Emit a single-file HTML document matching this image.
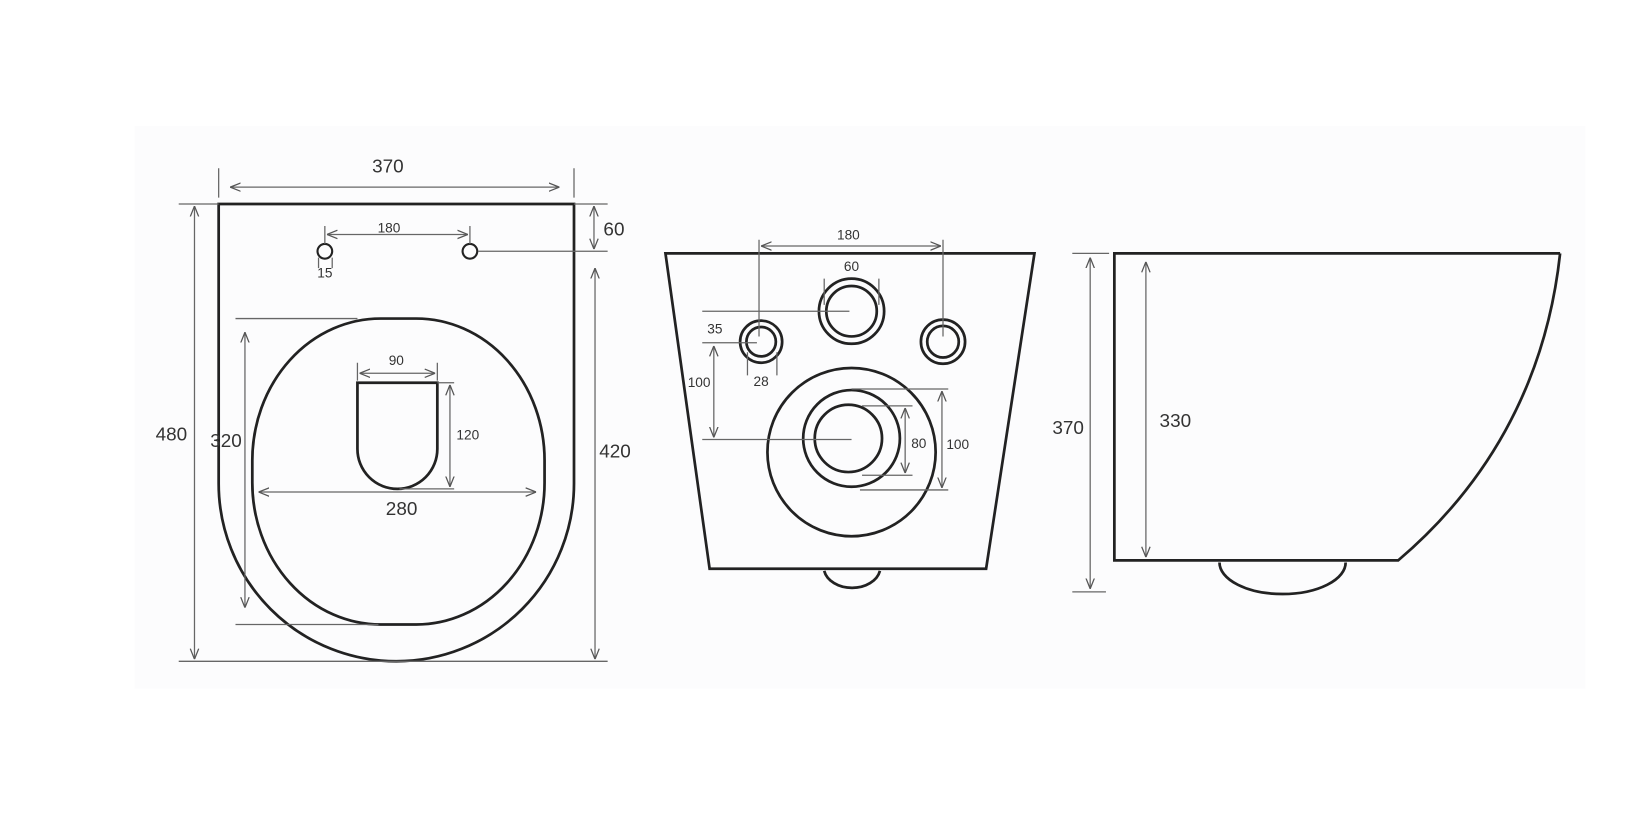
<!DOCTYPE html>
<html><head><meta charset="utf-8"><style>
html,body{margin:0;padding:0;background:#fff;width:1640px;height:839px;overflow:hidden}
svg{display:block}
text{font-family:"Liberation Sans",sans-serif;fill:#333;text-anchor:middle}
.d{stroke:#666;stroke-width:1.2;fill:none}
.o{stroke:#222;stroke-width:2.6;fill:none}
.b{font-size:18px}
.s{font-size:13px}
</style></head><body>
<svg width="1640" height="839" viewBox="0 0 1560 798" preserveAspectRatio="none">
<defs>
<marker id="a" viewBox="0 0 10 10" refX="10" refY="5" markerWidth="10" markerHeight="10" orient="auto-start-reverse" markerUnits="userSpaceOnUse"><path d="M0,1 L10,5 L0,9" fill="none" stroke="#555" stroke-width="1.2"/></marker>
</defs>
<rect x="128" y="120" width="1380" height="535" fill="#fcfcfd"/>
<!-- LEFT VIEW -->
<path class="o" d="M208,194 L546,194 L546,460 A169,169 0 0 1 208,460 Z"/>
<rect class="o" x="240" y="303" width="278" height="291" rx="122" ry="135"/>
<path class="o" d="M340,364 L416,364 L416,427 A38,38 0 0 1 340,427 Z"/>
<circle class="o" cx="309" cy="239" r="7" style="stroke-width:2"/>
<circle class="o" cx="447" cy="239" r="7" style="stroke-width:2"/>
<path class="d" d="M208,160V188M546,160V188" />
<line class="d" x1="219" y1="178" x2="532" y2="178" marker-start="url(#a)" marker-end="url(#a)"/>
<text class="b" x="369" y="164">370</text>
<path class="d" d="M309,215V232M447,215V232"/>
<line class="d" x1="311" y1="223" x2="445" y2="223" marker-start="url(#a)" marker-end="url(#a)"/>
<text class="s" x="370" y="221">180</text>
<path class="d" d="M303,245V255M316,245V255"/>
<text class="s" x="309" y="264">15</text>
<path class="d" d="M546,194H578M455,239H578"/>
<line class="d" x1="565" y1="196" x2="565" y2="237" marker-start="url(#a)" marker-end="url(#a)"/>
<text class="b" x="584" y="224">60</text>
<line class="d" x1="566" y1="255" x2="566" y2="627" marker-start="url(#a)" marker-end="url(#a)"/>
<text class="b" x="585" y="435">420</text>
<path class="d" d="M170,194H208M170,629H578"/>
<line class="d" x1="185" y1="196" x2="185" y2="627" marker-start="url(#a)" marker-end="url(#a)"/>
<text class="b" x="163" y="419">480</text>
<path class="d" d="M224,303H340M224,594H360"/>
<line class="d" x1="233" y1="316" x2="233" y2="578" marker-start="url(#a)" marker-end="url(#a)"/>
<text class="b" x="215" y="425">320</text>
<path class="d" d="M340,345V362M416,345V362"/>
<line class="d" x1="342" y1="355" x2="414" y2="355" marker-start="url(#a)" marker-end="url(#a)"/>
<text class="s" x="377" y="347">90</text>
<path class="d" d="M380,465H432M416,364H432"/>
<line class="d" x1="428" y1="366" x2="428" y2="463" marker-start="url(#a)" marker-end="url(#a)"/>
<text class="s" x="445" y="418">120</text>
<line class="d" x1="246" y1="468" x2="510" y2="468" marker-start="url(#a)" marker-end="url(#a)"/>
<text class="b" x="382" y="490">280</text>
<!-- MIDDLE VIEW -->
<path class="o" d="M633,241 L984,241 L938,541 L675,541 Z"/>
<path class="o" d="M784,543 A27,20 0 0 0 837,543"/>
<circle class="o" cx="724" cy="325" r="20"/><circle class="o" cx="724" cy="325" r="14"/>
<circle class="o" cx="897" cy="325" r="21"/><circle class="o" cx="897" cy="325" r="15"/>
<circle class="o" cx="810" cy="296" r="31"/><circle class="o" cx="810" cy="296" r="24"/>
<circle class="o" cx="810" cy="430" r="80"/>
<circle class="o" cx="810" cy="417" r="46"/><circle class="o" cx="807" cy="417" r="32"/>
<path class="d" d="M722,228V320M897,228V320"/>
<line class="d" x1="724" y1="234" x2="895" y2="234" marker-start="url(#a)" marker-end="url(#a)"/>
<text class="s" x="807" y="228">180</text>
<path class="d" d="M784,265V290M836,265V290"/>
<text class="s" x="810" y="258">60</text>
<path class="d" d="M668,296H808M668,326H720M668,418H810"/>
<text class="s" x="680" y="317">35</text>
<path class="d" d="M711,335V357M739,335V357"/>
<text class="s" x="724" y="367">28</text>
<line class="d" x1="679" y1="329" x2="679" y2="416" marker-start="url(#a)" marker-end="url(#a)"/>
<text class="s" x="665" y="368">100</text>
<path class="d" d="M820,386H868M820,452H868M810,370H902M818,466H902"/>
<line class="d" x1="861" y1="388" x2="861" y2="450" marker-start="url(#a)" marker-end="url(#a)"/>
<text class="s" x="874" y="426">80</text>
<line class="d" x1="896" y1="372" x2="896" y2="464" marker-start="url(#a)" marker-end="url(#a)"/>
<text class="s" x="911" y="427">100</text>
<!-- RIGHT VIEW -->
<path class="o" d="M1484,241 L1060,241 L1060,533 L1330,533 C1410,465 1470,370 1484,241"/>
<path class="o" d="M1160,535 A60,30 0 0 0 1280,535"/>
<path class="d" d="M1020,241H1055M1020,563H1052"/>
<line class="d" x1="1037" y1="245" x2="1037" y2="560" marker-start="url(#a)" marker-end="url(#a)"/>
<text class="b" x="1016" y="413">370</text>
<line class="d" x1="1090" y1="249" x2="1090" y2="530" marker-start="url(#a)" marker-end="url(#a)"/>
<text class="b" x="1118" y="406">330</text>
</svg>
</body></html>
